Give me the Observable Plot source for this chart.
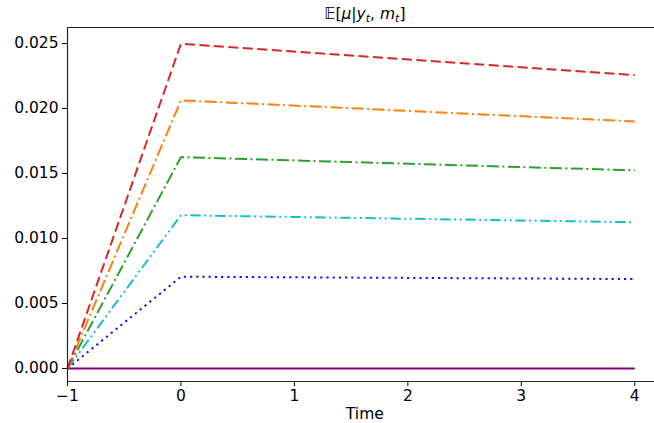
<!DOCTYPE html>
<html>
<head>
<meta charset="utf-8">
<script src="https://cdn.jsdelivr.net/npm/d3@7"></script>
<script src="https://cdn.jsdelivr.net/npm/@observablehq/plot@0.6"></script>
<style>
  html, body { margin: 0; padding: 0; background: white; overflow: hidden; }
  #chart { width: 654px; height: 423px; }
</style>
</head>
<body>
<div id="chart"></div>
<script>
// ---- data ----
const times = [-1, 0, 4];
const redDashed      = [0, 0.02498, 0.02257];
const orangeDashDot  = [0, 0.02063, 0.01900];
const greenDashDot   = [0, 0.01626, 0.01524];
const cyanDashDotDot = [0, 0.01179, 0.01125];
const blueDotted     = [0, 0.00706, 0.00688];
const purpleSolid    = [0, 0, 0];

const xTicks = [-1, 0, 1, 2, 3, 4];
const yTicks = [0, 0.005, 0.010, 0.015, 0.020, 0.025];
const xDomain = [-1, 4.174];
const yDomain = [-0.001, 0.02623];
const xLabel = "Time";

const toRows = vals => times.map((t, i) => ({t, v: vals[i]}));

const series = [
  {vals: purpleSolid,    color: "#800080", dash: null},
  {vals: blueDotted,     color: "#1010ff", dash: "2.2,4"},
  {vals: cyanDashDotDot, color: "#17becf", dash: "10.5,3.5,2,3.5,2,3.5"},
  {vals: greenDashDot,   color: "#2ca02c", dash: "12,3.5,2,3.5"},
  {vals: orangeDashDot,  color: "#ff7f0e", dash: "12,3.5,2,3.5"},
  {vals: redDashed,      color: "#d62728", dash: "10,4.5"}
];

const spine = "#262626";

const chart = Plot.plot({
  width: 654,
  height: 423,
  marginLeft: 67,
  marginRight: 0,
  marginTop: 27,
  marginBottom: 42,
  style: {fontSize: "15.5px", fontFamily: "DejaVu Sans, sans-serif", color: "#000", background: "white"},
  x: {domain: xDomain, label: null},
  y: {domain: yDomain, label: null},
  marks: [
    Plot.axisX({ticks: xTicks, tickSize: 5, tickPadding: 3, label: null,
      tickFormat: d => (d < 0 ? "\u2212" + Math.abs(d) : String(d))}),
    Plot.axisY({ticks: yTicks, tickSize: 5, tickPadding: 4, label: null,
      tickFormat: d3.format(".3f")}),
    ...series.map(s => Plot.line(toRows(s.vals), {
      x: "t", y: "v", stroke: s.color, strokeWidth: 2,
      strokeDasharray: s.dash, strokeLinecap: "butt", strokeLinejoin: "miter"
    })),
    Plot.ruleY([yDomain[1]], {stroke: spine, strokeWidth: 1.2}),
    Plot.ruleY([yDomain[0]], {stroke: spine, strokeWidth: 1.2}),
    Plot.ruleX([xDomain[0]], {stroke: spine, strokeWidth: 1.2})
  ]
});

document.getElementById("chart").appendChild(chart);

// title and x label, centred on the full (cropped) axes span [-1, 4.25]
const xScale = chart.scale("x");
const axesCentre = (-1 + 4.25) / 2;
const cx = xScale.apply ? xScale.apply(axesCentre)
  : 67 + (axesCentre - xDomain[0]) / (xDomain[1] - xDomain[0]) * (654 - 67);

const svg = d3.select(chart);
const title = svg.append("text")
  .attr("x", cx).attr("y", 19)
  .attr("text-anchor", "middle")
  .style("font-family", "DejaVu Sans, sans-serif")
  .style("font-size", "15.5px")
  .attr("fill", "#000");
const parts = [
  {t: "\u{1D53C}[", it: false},
  {t: "\u03BC", it: true},
  {t: "|", it: false},
  {t: "y", it: true},
  {t: "t", it: true, sub: true},
  {t: ", ", it: false},
  {t: "m", it: true},
  {t: "t", it: true, sub: true},
  {t: "]", it: false}
];
let lowered = false;
for (const p of parts) {
  const ts = title.append("tspan").text(p.t);
  if (p.it) ts.style("font-style", "italic");
  if (p.sub) {
    ts.style("font-size", "11px");
    if (!lowered) { ts.attr("dy", 3); lowered = true; }
  } else if (lowered) {
    ts.attr("dy", -3); lowered = false;
  }
}

svg.append("text")
  .attr("x", cx).attr("y", 419)
  .attr("text-anchor", "middle")
  .style("font-family", "DejaVu Sans, sans-serif")
  .style("font-size", "15.5px")
  .attr("fill", "#000")
  .text(xLabel);
</script>
</body>
</html>
